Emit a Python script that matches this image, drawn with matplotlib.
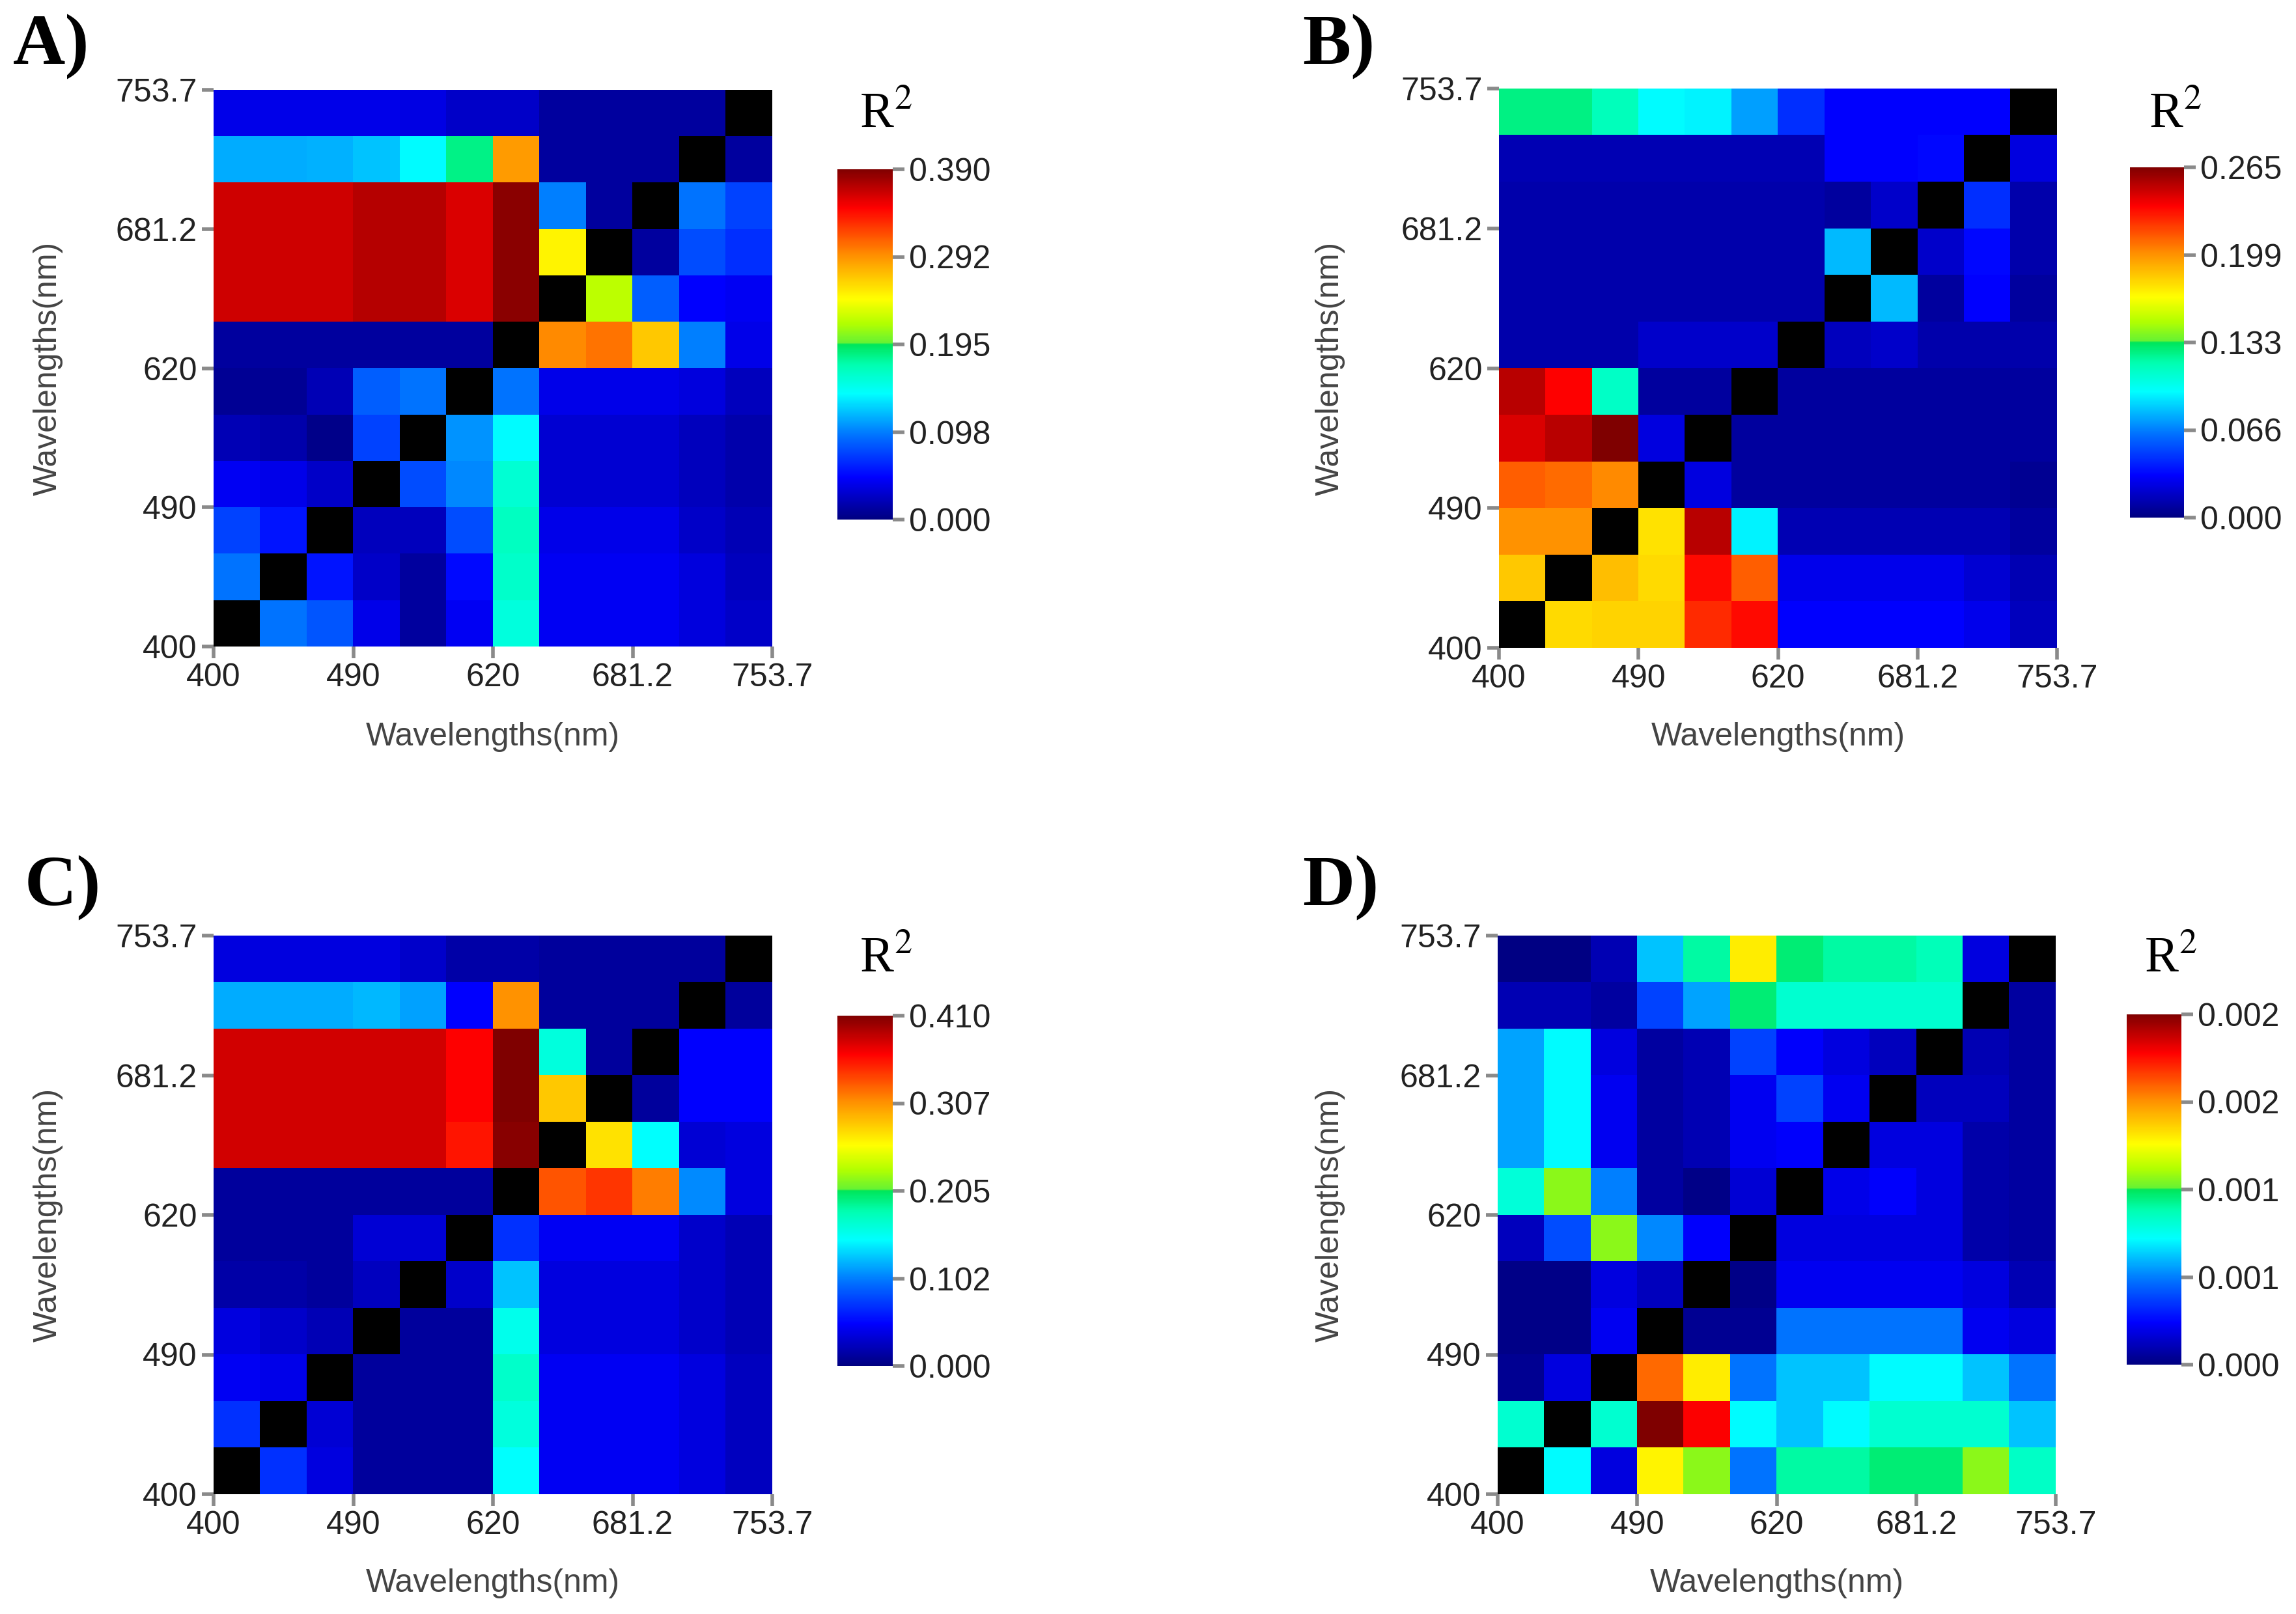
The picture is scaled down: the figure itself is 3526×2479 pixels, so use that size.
import numpy as np
import matplotlib
matplotlib.use('Agg')
import matplotlib.pyplot as plt
from matplotlib.colors import LinearSegmentedColormap

plt.rcParams['mathtext.fontset'] = 'stix'

X = np.nan

wl_ticks = ['400', '490', '620', '681.2', '753.7']

# R2 maps, rows listed from top (753.7) to bottom (400)
r2_a = np.array([
    [0.039, 0.039, 0.039, 0.039, 0.037, 0.027, 0.027, 0.012, 0.012, 0.012, 0.012, X],
    [0.113, 0.113, 0.115, 0.121, 0.140, 0.183, 0.289, 0.012, 0.012, 0.012, X, 0.012],
    [0.363, 0.363, 0.363, 0.371, 0.371, 0.359, 0.386, 0.098, 0.012, X, 0.094, 0.074],
    [0.363, 0.363, 0.363, 0.371, 0.371, 0.359, 0.386, 0.250, X, 0.012, 0.078, 0.066],
    [0.363, 0.363, 0.363, 0.371, 0.371, 0.359, 0.386, X, 0.222, 0.086, 0.047, 0.043],
    [0.012, 0.012, 0.012, 0.012, 0.012, 0.012, X, 0.296, 0.304, 0.269, 0.098, 0.039],
    [0.008, 0.008, 0.020, 0.086, 0.094, X, 0.094, 0.039, 0.039, 0.039, 0.035, 0.023],
    [0.020, 0.016, 0.004, 0.074, X, 0.105, 0.140, 0.031, 0.031, 0.031, 0.023, 0.016],
    [0.043, 0.039, 0.027, X, 0.078, 0.101, 0.158, 0.031, 0.031, 0.031, 0.023, 0.016],
    [0.074, 0.055, X, 0.023, 0.023, 0.078, 0.166, 0.039, 0.039, 0.039, 0.027, 0.020],
    [0.094, X, 0.055, 0.027, 0.012, 0.051, 0.162, 0.043, 0.043, 0.043, 0.035, 0.023],
    [X, 0.094, 0.082, 0.039, 0.012, 0.043, 0.154, 0.043, 0.043, 0.043, 0.035, 0.027],
])

r2_b = np.array([
    [0.125, 0.125, 0.114, 0.095, 0.093, 0.074, 0.045, 0.032, 0.032, 0.032, 0.032, X],
    [0.013, 0.013, 0.013, 0.013, 0.013, 0.013, 0.013, 0.032, 0.032, 0.034, X, 0.024],
    [0.011, 0.011, 0.011, 0.011, 0.011, 0.011, 0.011, 0.008, 0.019, X, 0.045, 0.011],
    [0.011, 0.011, 0.011, 0.011, 0.011, 0.011, 0.011, 0.080, X, 0.019, 0.034, 0.011],
    [0.011, 0.011, 0.011, 0.011, 0.011, 0.011, 0.011, X, 0.080, 0.008, 0.032, 0.008],
    [0.011, 0.011, 0.011, 0.019, 0.019, 0.019, X, 0.016, 0.019, 0.011, 0.011, 0.011],
    [0.252, 0.236, 0.111, 0.008, 0.008, X, 0.008, 0.008, 0.008, 0.008, 0.008, 0.008],
    [0.244, 0.252, 0.265, 0.024, X, 0.008, 0.008, 0.008, 0.008, 0.008, 0.008, 0.008],
    [0.212, 0.209, 0.201, X, 0.024, 0.008, 0.008, 0.008, 0.008, 0.008, 0.008, 0.005],
    [0.199, 0.199, X, 0.175, 0.252, 0.093, 0.013, 0.013, 0.013, 0.013, 0.013, 0.008],
    [0.183, X, 0.186, 0.178, 0.233, 0.212, 0.027, 0.027, 0.027, 0.027, 0.021, 0.013],
    [X, 0.178, 0.180, 0.180, 0.225, 0.233, 0.032, 0.032, 0.032, 0.032, 0.027, 0.016],
])

r2_c = np.array([
    [0.037, 0.037, 0.037, 0.037, 0.029, 0.016, 0.016, 0.012, 0.012, 0.012, 0.012, X],
    [0.119, 0.119, 0.119, 0.123, 0.115, 0.049, 0.308, 0.012, 0.012, 0.012, X, 0.012],
    [0.381, 0.381, 0.381, 0.381, 0.381, 0.365, 0.410, 0.162, 0.012, X, 0.049, 0.049],
    [0.381, 0.381, 0.381, 0.381, 0.381, 0.365, 0.410, 0.283, X, 0.012, 0.049, 0.049],
    [0.381, 0.381, 0.381, 0.381, 0.381, 0.357, 0.406, X, 0.271, 0.148, 0.033, 0.037],
    [0.012, 0.012, 0.012, 0.012, 0.012, 0.012, X, 0.332, 0.344, 0.316, 0.107, 0.037],
    [0.012, 0.012, 0.012, 0.033, 0.033, X, 0.070, 0.045, 0.045, 0.045, 0.029, 0.021],
    [0.016, 0.016, 0.012, 0.025, X, 0.029, 0.127, 0.037, 0.037, 0.037, 0.029, 0.021],
    [0.037, 0.029, 0.021, X, 0.012, 0.012, 0.156, 0.037, 0.037, 0.037, 0.029, 0.021],
    [0.045, 0.041, X, 0.012, 0.012, 0.012, 0.170, 0.045, 0.045, 0.045, 0.037, 0.025],
    [0.070, X, 0.033, 0.012, 0.012, 0.012, 0.162, 0.045, 0.045, 0.045, 0.037, 0.025],
    [X, 0.070, 0.037, 0.012, 0.012, 0.012, 0.148, 0.045, 0.045, 0.045, 0.037, 0.025],
])

r2_d = np.array([
    [0.00001, 0.00001, 0.00011, 0.00068, 0.00099, 0.00143, 0.00106, 0.00099, 0.00099, 0.00095, 0.00020, X],
    [0.00011, 0.00011, 0.00007, 0.00042, 0.00062, 0.00106, 0.00090, 0.00090, 0.00090, 0.00090, X, 0.00007],
    [0.00062, 0.00079, 0.00020, 0.00007, 0.00011, 0.00042, 0.00026, 0.00020, 0.00013, X, 0.00011, 0.00007],
    [0.00062, 0.00079, 0.00024, 0.00007, 0.00011, 0.00024, 0.00042, 0.00024, X, 0.00013, 0.00013, 0.00007],
    [0.00062, 0.00079, 0.00024, 0.00007, 0.00011, 0.00024, 0.00026, X, 0.00020, 0.00020, 0.00009, 0.00007],
    [0.00088, 0.00117, 0.00055, 0.00007, 0.00002, 0.00018, X, 0.00022, 0.00026, 0.00020, 0.00009, 0.00007],
    [0.00013, 0.00044, 0.00117, 0.00057, 0.00026, X, 0.00020, 0.00020, 0.00020, 0.00020, 0.00009, 0.00007],
    [0.00002, 0.00002, 0.00020, 0.00013, X, 0.00002, 0.00024, 0.00024, 0.00024, 0.00024, 0.00020, 0.00011],
    [0.00002, 0.00002, 0.00024, X, 0.00004, 0.00004, 0.00053, 0.00053, 0.00053, 0.00053, 0.00024, 0.00020],
    [0.00004, 0.00020, X, 0.00174, 0.00143, 0.00053, 0.00068, 0.00068, 0.00079, 0.00079, 0.00068, 0.00053],
    [0.00090, X, 0.00090, 0.00220, 0.00196, 0.00079, 0.00068, 0.00079, 0.00090, 0.00090, 0.00090, 0.00068],
    [X, 0.00079, 0.00020, 0.00141, 0.00117, 0.00053, 0.00099, 0.00099, 0.00106, 0.00106, 0.00117, 0.00092],
])

panel_names = ['A)', 'B)', 'C)', 'D)']
vmaxes = [0.390, 0.265, 0.410, 0.0022]
cbar_labels = [
    ['0.000', '0.098', '0.195', '0.292', '0.390'],
    ['0.000', '0.066', '0.133', '0.199', '0.265'],
    ['0.000', '0.102', '0.205', '0.307', '0.410'],
    ['0.000', '0.001', '0.001', '0.002', '0.002'],
]
maps = [r2_a, r2_b, r2_c, r2_d]

# jet-like scale as drawn in the source (green band ends abruptly at mid)
cmap = LinearSegmentedColormap.from_list('jetlike', [
    (0.00, (0.00, 0.00, 0.50)),
    (0.12, (0.00, 0.00, 1.00)),
    (0.24, (0.00, 0.45, 1.00)),
    (0.36, (0.00, 1.00, 1.00)),
    (0.44, (0.00, 1.00, 0.70)),
    (0.50, (0.00, 0.90, 0.35)),
    (0.505, (0.40, 0.95, 0.20)),
    (0.56, (0.70, 1.00, 0.00)),
    (0.63, (1.00, 1.00, 0.00)),
    (0.75, (1.00, 0.58, 0.00)),
    (0.89, (1.00, 0.00, 0.00)),
    (1.00, (0.50, 0.00, 0.00)),
], N=512)
cmap.set_bad('black')

W, H = 3526, 2479
fig = plt.figure(figsize=(W / 100, H / 100), dpi=100)

def px(x0, y0, x1, y1):
    # pixel box -> figure fraction
    return [x0 / W, 1 - y1 / H, (x1 - x0) / W, (y1 - y0) / H]

layout = [
    dict(hm=(328, 138, 1186, 993), cb=(1286, 260, 1371, 798), lab=(20, 22), r2=(1360, 195), yl=74, xl=1132),
    dict(hm=(2302, 136, 3159, 995), cb=(3271, 257, 3354, 795), lab=(2000, 22), r2=(3340, 195), yl=2043, xl=1132),
    dict(hm=(328, 1437, 1186, 2295), cb=(1286, 1560, 1371, 2098), lab=(38, 1314), r2=(1360, 1492), yl=74, xl=2432),
    dict(hm=(2300, 1437, 3157, 2295), cb=(3266, 1558, 3350, 2096), lab=(2000, 1314), r2=(3333, 1492), yl=2043, xl=2432),
]

tick_font = ['Liberation Sans', 'DejaVu Sans']
tick_col = '#8a8a8a'
fs = 36

for name, data, vmax, cbl, lay in zip(panel_names, maps, vmaxes, cbar_labels, layout):
    ax = fig.add_axes(px(*lay['hm']))
    im = ax.imshow(np.ma.masked_invalid(data), cmap=cmap, vmin=0, vmax=vmax,
                   origin='upper', extent=(0, 12, 0, 12), aspect='auto',
                   interpolation='nearest')
    ax.set_xticks([0, 3, 6, 9, 12])
    ax.set_yticks([0, 3, 6, 9, 12])
    ax.set_xticklabels(wl_ticks, family=tick_font, fontsize=fs, color='#222222')
    ax.set_yticklabels(wl_ticks, family=tick_font, fontsize=fs, color='#222222')
    ax.tick_params(length=13, width=4, color=tick_col, pad=5)
    for s in ax.spines.values():
        s.set_visible(False)

    x0, y0, x1, y1 = lay['hm']
    fig.text((x0 + x1) / 2 / W, 1 - lay['xl'] / H, 'Wavelengths(nm)',
             ha='center', va='center', family=tick_font, fontsize=fs, color='#444444')
    fig.text(lay['yl'] / W, 1 - (y0 + y1) / 2 / H, 'Wavelengths(nm)', rotation=90,
             ha='center', va='center', family=tick_font, fontsize=fs, color='#444444')

    cax = fig.add_axes(px(*lay['cb']))
    cb = fig.colorbar(im, cax=cax, ticks=np.linspace(0, vmax, 5))
    cb.ax.set_yticklabels(cbl, family=tick_font, fontsize=fs, color='#222222')
    cb.ax.tick_params(length=13, width=4, color=tick_col, pad=5)
    cb.outline.set_visible(False)

    fig.text(lay['lab'][0] / W, 1 - lay['lab'][1] / H, name, ha='left', va='top',
             family=['Liberation Serif', 'DejaVu Serif'], fontweight='bold', fontsize=80)
    fig.text(lay['r2'][0] / W, 1 - lay['r2'][1] / H, r'R$^{\mathrm{2}}$', ha='center',
             va='baseline', family=['Liberation Serif', 'DejaVu Serif'], fontsize=56)

fig.savefig('out.png', dpi=100, facecolor='white')
